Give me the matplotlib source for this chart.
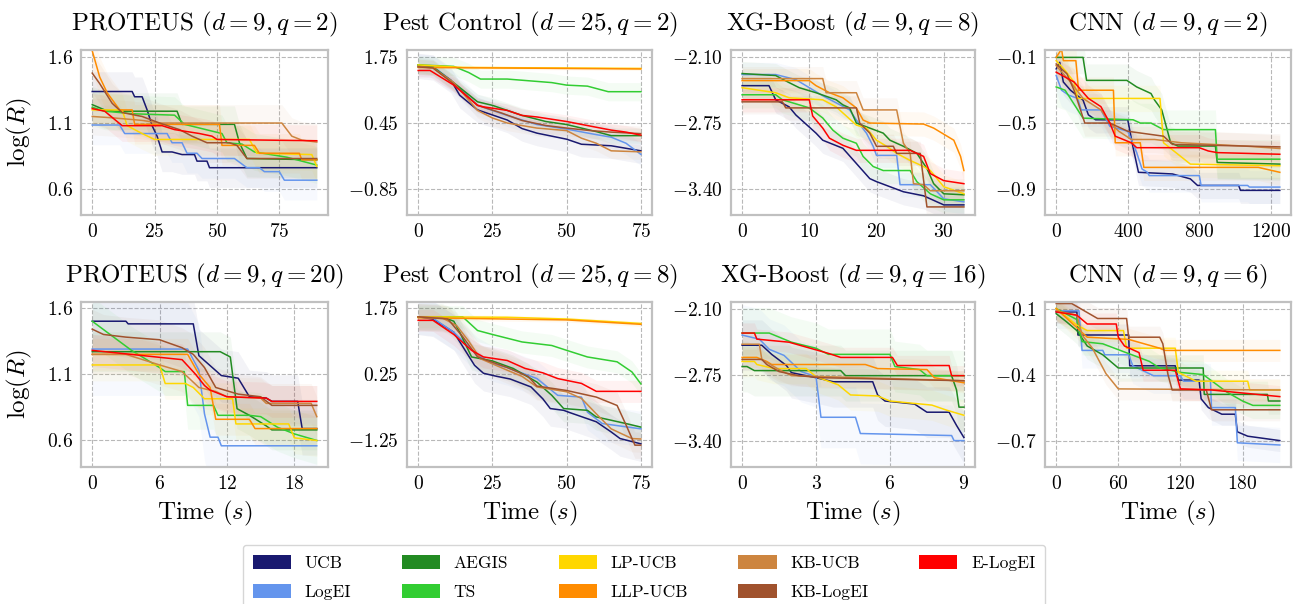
import matplotlib
matplotlib.use("Agg")
import matplotlib.pyplot as plt
from matplotlib.patches import Patch
import numpy as np

plt.rcParams['font.family'] = ['cmr10', 'DejaVu Serif']
plt.rcParams['mathtext.fontset'] = 'cm'
plt.rcParams['axes.formatter.use_mathtext'] = True

METHODS = ["UCB", "LogEI", "AEGIS", "TS", "LP-UCB", "LLP-UCB", "KB-UCB", "KB-LogEI", "E-LogEI"]
COLORS = ["#191970", "#6495ED", "#228B22", "#32CD32", "#FFD700", "#FF8C00", "#CD853F", "#A0522D", "#FF0000"]

TITLES = [r"PROTEUS ($d=9, q=2$)", r"Pest Control ($d=25, q=2$)", r"XG-Boost ($d=9, q=8$)", r"CNN ($d=9, q=2$)",
          r"PROTEUS ($d=9, q=20$)", r"Pest Control ($d=25, q=8$)", r"XG-Boost ($d=9, q=16$)", r"CNN ($d=9, q=6$)"]

YTICKS = [[0.6, 1.1, 1.6], [-0.85, 0.45, 1.75], [-3.40, -2.75, -2.10], [-0.9, -0.5, -0.1],
          [0.6, 1.1, 1.6], [-1.25, 0.25, 1.75], [-3.40, -2.75, -2.10], [-0.7, -0.4, -0.1]]
YTICKLABELS = [["0.6", "1.1", "1.6"], ["-0.85", "0.45", "1.75"], ["-3.40", "-2.75", "-2.10"], ["-0.9", "-0.5", "-0.1"],
               ["0.6", "1.1", "1.6"], ["-1.25", "0.25", "1.75"], ["-3.40", "-2.75", "-2.10"], ["-0.7", "-0.4", "-0.1"]]
XTICKS = [[0, 25, 50, 75], [0, 25, 50, 75], [0, 10, 20, 30], [0, 400, 800, 1200],
          [0, 6, 12, 18], [0, 25, 50, 75], [0, 3, 6, 9], [0, 60, 120, 180]]
YLIMS = [(0.40, 1.656), (-1.37, 1.895), (-3.66, -2.027), (-1.06, -0.055),
         (0.40, 1.645), (-1.855, 1.886), (-3.66, -2.034), (-0.82, -0.07)]

# ---- mean curves (time, log R) ----
PROTEUS_Q2 = {
    "UCB": [(0,1.34),(16,1.34),(17,1.30),(20,1.30),(22,1.20),(24,1.08),(26,1.0),(28,0.88),(32,0.88),(36,0.86),(41,0.86),(42,0.81),(46,0.81),(47,0.76),(90,0.76)],
    "LogEI": [(0,1.085),(11,1.085),(13,1.02),(30,1.02),(32,0.95),(36,0.95),(38,0.87),(42,0.87),(44,0.83),(57,0.83),(62,0.76),(67,0.76),(69,0.73),(75,0.73),(77,0.665),(90,0.665)],
    "AEGIS": [(0,1.24),(5,1.20),(9,1.19),(34,1.19),(36,1.09),(57,1.09),(59,0.95),(62,0.83),(90,0.82)],
    "TS": [(0,1.22),(5,1.19),(17,1.17),(33,1.16),(37,1.09),(52,1.02),(54,0.95),(60,0.94),(65,0.88),(78,0.84),(88,0.79),(90,0.78)],
    "LP-UCB": [(0,1.20),(12,1.20),(14,1.08),(20,1.02),(25,0.975),(63,0.975),(66,0.87),(88,0.86),(90,0.77)],
    "LLP-UCB": [(0,1.65),(3,1.45),(6,1.33),(11,1.20),(16,1.20),(17,1.09),(51,1.09),(52,0.93),(65,0.93),(67,0.87),(83,0.87),(84,0.82),(90,0.82)],
    "KB-UCB": [(0,1.15),(8,1.14),(20,1.12),(27,1.10),(76,1.10),(80,1.0),(84,0.97),(90,0.955)],
    "KB-LogEI": [(0,1.48),(3,1.40),(8,1.25),(12,1.18),(20,1.15),(27,1.10),(35,1.05),(40,1.00),(46,0.95),(55,0.95),(58,0.93),(62,0.83),(90,0.83)],
    "E-LogEI": [(0,1.21),(5,1.19),(12,1.08),(28,1.08),(33,1.05),(43,1.02),(48,1.0),(50,0.975),(90,0.965)],
}
PEST_Q2 = {
    "UCB": [(0,1.58),(5,1.55),(11,1.30),(14,1.00),(20,0.71),(30,0.51),(35,0.34),(40,0.25),(50,0.13),(55,0.03),(65,0.0),(75,-0.10)],
    "LogEI": [(0,1.6),(5,1.57),(12,1.25),(20,0.80),(30,0.60),(40,0.42),(50,0.33),(60,0.22),(65,0.17),(70,0.05),(75,-0.17)],
    "AEGIS": [(0,1.6),(5,1.56),(13,1.2),(20,0.87),(25,0.80),(30,0.70),(35,0.60),(43,0.48),(50,0.42),(55,0.35),(60,0.28),(65,0.20),(75,0.20)],
    "TS": [(0,1.60),(12,1.57),(17,1.45),(21,1.32),(30,1.32),(45,1.25),(50,1.20),(57,1.18),(64,1.07),(75,1.07)],
    "LP-UCB": [(0,1.60),(15,1.55),(75,1.53)],
    "LLP-UCB": [(0,1.55),(75,1.52)],
    "KB-UCB": [(0,1.57),(5,1.54),(12,1.25),(20,0.70),(25,0.55),(30,0.45),(40,0.35),(50,0.30),(55,0.15),(60,0.05),(65,-0.10),(75,-0.12)],
    "KB-LogEI": [(0,1.56),(5,1.54),(12,1.22),(20,0.80),(28,0.65),(35,0.50),(43,0.40),(50,0.35),(58,0.30),(65,0.27),(75,0.24)],
    "E-LogEI": [(0,1.49),(4,1.49),(12,1.20),(20,0.80),(22,0.77),(30,0.70),(35,0.60),(40,0.57),(50,0.48),(57,0.40),(65,0.31),(70,0.27),(75,0.21)],
}
XGB_Q8 = {
    "UCB": [(0,-2.38),(4,-2.38),(5,-2.52),(7,-2.59),(8,-2.67),(10,-2.79),(11,-2.85),(12,-2.92),(15,-3.0),(17,-3.15),(19,-3.3),(20,-3.33),(24,-3.43),(27,-3.47),(30,-3.56),(33,-3.56)],
    "LogEI": [(0,-2.27),(5,-2.27),(8,-2.32),(10,-2.40),(12,-2.48),(14,-2.55),(16,-2.62),(17,-2.72),(18.5,-2.85),(19.5,-2.98),(20,-3.07),(23,-3.07),(23.5,-3.36),(28,-3.36),(30,-3.50),(33,-3.53)],
    "AEGIS": [(0,-2.26),(5,-2.28),(7,-2.35),(8.5,-2.40),(11,-2.45),(14,-2.52),(15,-2.57),(16,-2.60),(17,-2.75),(19,-2.80),(21,-2.85),(22,-2.92),(24,-2.98),(26,-3.05),(27.5,-3.20),(28.5,-3.35),(30,-3.45),(33,-3.46)],
    "TS": [(0,-2.47),(5,-2.47),(6,-2.52),(10,-2.60),(12,-2.70),(13.5,-2.82),(15,-2.90),(17,-2.95),(18,-3.08),(19.5,-3.18),(21,-3.22),(25,-3.22),(26,-3.33),(28,-3.45),(30,-3.51),(33,-3.51)],
    "LP-UCB": [(0,-2.40),(5,-2.45),(7,-2.50),(12,-2.52),(14,-2.59),(15,-2.65),(17,-2.77),(18.5,-2.80),(20,-2.92),(21.5,-2.98),(23,-3.05),(25,-3.12),(27,-3.18),(28,-3.22),(30,-3.38),(33,-3.45)],
    "LLP-UCB": [(0,-2.33),(10,-2.33),(11,-2.38),(13,-2.45),(15,-2.50),(17,-2.60),(18,-2.72),(19,-2.75),(27,-2.76),(28.5,-2.80),(30,-2.86),(31.5,-2.92),(32.5,-3.08),(33,-3.22)],
    "KB-UCB": [(0,-2.31),(12,-2.31),(12.5,-2.45),(17,-2.45),(18,-2.62),(23,-2.62),(24,-2.95),(25,-3.05),(25.5,-3.35),(27,-3.36),(28,-3.42),(33,-3.42)],
    "KB-LogEI": [(0,-2.54),(6,-2.54),(6.5,-2.60),(17,-2.60),(17.5,-2.75),(19,-2.85),(20,-2.98),(22.5,-2.98),(23,-3.05),(26.5,-3.05),(27.5,-3.58),(33,-3.58)],
    "E-LogEI": [(0,-2.52),(10,-2.52),(10.5,-2.68),(12,-2.80),(13,-2.90),(15,-2.97),(17,-3.02),(25,-3.02),(27,-3.08),(28,-3.25),(30,-3.32),(33,-3.35)],
}
CNN_Q2 = {
    "UCB": [(0,-0.17),(20,-0.13),(40,-0.25),(80,-0.30),(150,-0.36),(180,-0.45),(220,-0.48),(400,-0.48),(430,-0.65),(460,-0.80),(650,-0.81),(750,-0.84),(790,-0.88),(1020,-0.88),(1030,-0.91),(1250,-0.91)],
    "LogEI": [(0,-0.21),(30,-0.30),(70,-0.33),(120,-0.35),(140,-0.42),(250,-0.42),(300,-0.52),(400,-0.55),(420,-0.60),(450,-0.68),(480,-0.78),(510,-0.80),(520,-0.82),(800,-0.82),(810,-0.88),(1070,-0.88),(1080,-0.89),(1250,-0.89)],
    "AEGIS": [(0,-0.10),(150,-0.10),(170,-0.24),(395,-0.24),(450,-0.28),(530,-0.32),(550,-0.36),(590,-0.42),(640,-0.62),(680,-0.64),(890,-0.64),(900,-0.74),(1250,-0.75)],
    "TS": [(0,-0.28),(50,-0.30),(150,-0.47),(430,-0.48),(470,-0.50),(530,-0.50),(600,-0.54),(890,-0.54),(900,-0.72),(1250,-0.72)],
    "LP-UCB": [(0,-0.12),(50,-0.18),(100,-0.25),(120,-0.35),(580,-0.35),(600,-0.62),(750,-0.75),(1250,-0.76)],
    "LLP-UCB": [(0,-0.10),(30,-0.05),(40,-0.12),(110,-0.12),(125,-0.30),(320,-0.30),(330,-0.62),(470,-0.62),(490,-0.77),(1130,-0.77),(1250,-0.80)],
    "KB-UCB": [(0,-0.15),(80,-0.25),(150,-0.35),(250,-0.42),(300,-0.50),(350,-0.55),(420,-0.60),(550,-0.60),(700,-0.62),(1050,-0.64),(1250,-0.655)],
    "KB-LogEI": [(0,-0.14),(60,-0.20),(100,-0.30),(160,-0.50),(300,-0.50),(400,-0.55),(600,-0.58),(650,-0.63),(1250,-0.645)],
    "E-LogEI": [(0,-0.19),(50,-0.22),(100,-0.25),(140,-0.30),(180,-0.35),(250,-0.40),(300,-0.50),(330,-0.58),(420,-0.62),(450,-0.65),(800,-0.65),(850,-0.67),(900,-0.68),(1250,-0.69)],
}
PROTEUS_Q20 = {
    "UCB": [(0,1.50),(3,1.50),(3.2,1.48),(9,1.48),(9.5,1.24),(11.5,1.09),(13,1.07),(14,0.93),(15.5,0.92),(16,0.895),(18.3,0.895),(18.7,0.69),(20,0.69)],
    "LogEI": [(0,1.29),(8.5,1.29),(9.5,1.13),(10,0.80),(10.5,0.625),(11.2,0.625),(11.5,0.56),(20,0.56)],
    "AEGIS": [(0,1.27),(11.4,1.27),(12.3,1.23),(12.9,0.84),(14,0.79),(15.5,0.71),(16,0.68),(20,0.68)],
    "TS": [(0,1.50),(3.5,1.28),(6,1.15),(6.5,1.12),(8.2,1.12),(8.5,0.865),(10.8,0.865),(11.2,0.79),(14,0.79),(15,0.78),(16.5,0.70),(18,0.65),(20,0.60)],
    "LP-UCB": [(0,1.17),(6,1.17),(6.5,1.03),(8.3,1.03),(9,1.0),(10,0.915),(12.5,0.915),(12.8,0.725),(17.5,0.725),(18,0.62),(20,0.60)],
    "LLP-UCB": [(0,1.25),(8.5,1.25),(9.5,1.10),(10.5,1.0),(11,0.76),(14,0.76),(14.5,0.69),(20,0.69)],
    "KB-UCB": [(0,1.25),(3,1.25),(6,1.17),(8,1.12),(9.5,1.0),(11,0.97),(12,0.93),(15,0.92),(15.5,0.88),(19.5,0.88),(20,0.78)],
    "KB-LogEI": [(0,1.44),(1,1.40),(3,1.38),(6,1.36),(8,1.30),(9,1.25),(10,1.15),(11,1.00),(13,0.95),(15,0.93),(16,0.865),(20,0.865)],
    "E-LogEI": [(0,1.28),(8,1.21),(9.2,1.10),(10,1.015),(10.5,0.98),(12,0.93),(15.5,0.92),(16,0.895),(20,0.895)],
}
PEST_Q8 = {
    "UCB": [(0,1.55),(5,1.50),(12,1.20),(19,0.45),(22,0.27),(26.5,0.20),(31,0.14),(38,-0.04),(42,-0.31),(44.5,-0.53),(49,-0.57),(51,-0.62),(60,-0.83),(65,-1.06),(68,-1.21),(75,-1.33)],
    "LogEI": [(0,1.55),(5,1.52),(12,1.20),(20,0.68),(25,0.49),(30,0.40),(40,0.15),(47,-0.23),(55,-0.27),(57,-0.61),(62,-0.87),(75,-0.99)],
    "AEGIS": [(0,1.55),(8,1.55),(12,1.45),(14,1.20),(18,0.64),(25,0.55),(32,0.38),(40,0.07),(45,-0.23),(49,-0.53),(57,-0.57),(60,-0.72),(70,-0.87),(75,-0.95)],
    "TS": [(0,1.55),(15,1.55),(20,1.24),(25,1.15),(35,0.98),(45,0.90),(50,0.79),(57,0.64),(67,0.53),(72,0.30),(75,0.03)],
    "LP-UCB": [(0,1.55),(30,1.54),(50,1.50),(75,1.40)],
    "LLP-UCB": [(0,1.53),(30,1.50),(50,1.48),(75,1.38)],
    "KB-UCB": [(0,1.55),(8,1.53),(13,1.35),(17,1.0),(21,0.60),(30,0.34),(35,0.20),(40,-0.04),(50,-0.15),(55,-0.30),(60,-0.65),(65,-0.99),(72,-1.21),(75,-1.22)],
    "KB-LogEI": [(0,1.55),(10,1.50),(15,1.10),(20,0.64),(30,0.40),(37,0.20),(40,-0.02),(50,-0.12),(60,-0.27),(67,-0.46),(70,-0.90),(73,-1.36),(75,-1.36)],
    "E-LogEI": [(0,1.47),(5,1.47),(12,1.15),(18,0.79),(22,0.64),(30,0.56),(36,0.38),(42,0.28),(47,0.15),(55,0.04),(60,-0.14),(75,-0.14)],
}
XGB_Q16 = {
    "UCB": [(0,-2.46),(0.8,-2.46),(1.2,-2.55),(1.8,-2.66),(2.0,-2.73),(3.0,-2.78),(3.7,-2.82),(5.3,-2.82),(5.5,-2.95),(5.8,-3.01),(7.0,-3.04),(7.5,-3.12),(8.4,-3.12),(8.7,-3.25),(9,-3.37)],
    "LogEI": [(0,-2.36),(0.7,-2.40),(1.1,-2.50),(1.7,-2.56),(2.4,-2.72),(3.0,-2.77),(3.2,-3.17),(4.6,-3.17),(4.8,-3.33),(8.5,-3.35),(8.6,-3.40),(9,-3.40)],
    "AEGIS": [(0,-2.67),(0.2,-2.67),(0.5,-2.71),(4.0,-2.71),(4.2,-2.76),(8.5,-2.76),(8.7,-2.90),(8.8,-3.07),(9,-3.07)],
    "TS": [(0,-2.34),(1.1,-2.34),(1.5,-2.38),(2,-2.43),(3,-2.49),(3.5,-2.55),(6,-2.55),(6.2,-2.67),(7.2,-2.70),(7.5,-2.76),(9,-2.76)],
    "LP-UCB": [(0,-2.62),(0.5,-2.62),(0.6,-2.65),(1.3,-2.69),(2.6,-2.69),(3.0,-2.77),(3.9,-2.85),(4.4,-2.95),(5.5,-2.96),(6.0,-3.01),(7.7,-3.05),(8.3,-3.10),(9,-3.15)],
    "LLP-UCB": [(0,-2.58),(0.6,-2.58),(1.0,-2.62),(1.2,-2.65),(5.0,-2.65),(5.5,-2.69),(7.5,-2.70),(7.8,-2.78),(9,-2.83)],
    "KB-UCB": [(0,-2.45),(0.7,-2.45),(0.8,-2.60),(1.5,-2.70),(2.0,-2.76),(9,-2.81)],
    "KB-LogEI": [(0,-2.60),(0.8,-2.60),(1.0,-2.65),(1.5,-2.72),(2.3,-2.76),(3.2,-2.78),(9,-2.81)],
    "E-LogEI": [(0,-2.34),(0.5,-2.34),(0.6,-2.40),(1.9,-2.43),(3.5,-2.54),(4.0,-2.58),(6.1,-2.58),(6.3,-2.66),(8.4,-2.66),(8.5,-2.76),(9,-2.76)],
}
CNN_Q6 = {
    "UCB": [(0,-0.115),(20,-0.115),(21,-0.22),(70,-0.22),(71,-0.36),(115,-0.36),(118,-0.425),(138,-0.425),(140,-0.51),(147,-0.55),(160,-0.58),(173,-0.58),(175,-0.66),(185,-0.68),(216,-0.70)],
    "LogEI": [(0,-0.11),(22,-0.11),(25,-0.29),(45,-0.29),(47,-0.31),(70,-0.31),(74,-0.36),(94,-0.405),(120,-0.405),(123,-0.43),(149,-0.43),(150,-0.55),(173,-0.55),(175,-0.71),(216,-0.72)],
    "AEGIS": [(0,-0.123),(10,-0.16),(20,-0.20),(30,-0.27),(45,-0.31),(60,-0.37),(142,-0.37),(143,-0.49),(204,-0.49),(205,-0.52),(216,-0.52)],
    "TS": [(0,-0.10),(20,-0.15),(25,-0.25),(45,-0.26),(90,-0.34),(100,-0.37),(120,-0.39),(142,-0.40),(165,-0.48),(180,-0.52),(190,-0.54),(216,-0.54)],
    "LP-UCB": [(0,-0.10),(20,-0.175),(30,-0.20),(65,-0.20),(68,-0.28),(115,-0.28),(118,-0.39),(135,-0.43),(185,-0.43),(187,-0.47),(216,-0.47)],
    "LLP-UCB": [(0,-0.10),(30,-0.23),(70,-0.24),(100,-0.28),(105,-0.29),(216,-0.29)],
    "KB-UCB": [(0,-0.11),(20,-0.13),(25,-0.22),(35,-0.28),(48,-0.395),(60,-0.465),(216,-0.47)],
    "KB-LogEI": [(0,-0.077),(15,-0.077),(40,-0.145),(68,-0.145),(70,-0.23),(100,-0.23),(103,-0.26),(108,-0.40),(112,-0.47),(145,-0.47),(150,-0.56),(216,-0.56)],
    "E-LogEI": [(0,-0.115),(20,-0.13),(30,-0.17),(58,-0.17),(60,-0.23),(66,-0.27),(80,-0.30),(84,-0.38),(115,-0.38),(120,-0.465),(150,-0.47),(216,-0.50)],
}

# ---- half-width of shaded bands (order of METHODS) ----
BAND_PROTEUS_Q2 = [0.15, 0.15, 0.14, 0.14, 0.12, 0.15, 0.14, 0.15, 0.12]
BAND_PEST_Q2 = [0.25, 0.22, 0.15, 0.18, 0.03, 0.03, 0.15, 0.15, 0.13]
BAND_XGB_Q8 = [0.13, 0.12, 0.12, 0.13, 0.12, 0.12, 0.12, 0.12, 0.12]
BAND_CNN_Q2 = [0.08, 0.1, 0.1, 0.12, 0.08, 0.08, 0.08, 0.08, 0.08]
BAND_PROTEUS_Q20 = [0.2, 0.35, 0.15, 0.18, 0.12, 0.12, 0.15, 0.15, 0.12]
BAND_PEST_Q8 = [0.4, 0.4, 0.3, 0.25, 0.05, 0.05, 0.3, 0.3, 0.25]
BAND_XGB_Q16 = [0.25, 0.3, 0.25, 0.25, 0.15, 0.1, 0.1, 0.1, 0.1]
BAND_CNN_Q6 = [0.05, 0.08, 0.06, 0.06, 0.05, 0.05, 0.05, 0.05, 0.05]

PANELS = [PROTEUS_Q2, PEST_Q2, XGB_Q8, CNN_Q2, PROTEUS_Q20, PEST_Q8, XGB_Q16, CNN_Q6]
BANDS = [BAND_PROTEUS_Q2, BAND_PEST_Q2, BAND_XGB_Q8, BAND_CNN_Q2, BAND_PROTEUS_Q20, BAND_PEST_Q8, BAND_XGB_Q16, BAND_CNN_Q6]

W, H = 1293, 604
fig = plt.figure(figsize=(W / 100, H / 100), dpi=100)
lefts = [81, 407, 731, 1045]
widths = [247, 245, 244, 246]
tops = [50, 302]
ah = 165

for i in range(8):
    r, c = divmod(i, 4)
    ax = fig.add_axes([lefts[c] / W, 1 - (tops[r] + ah) / H, widths[c] / W, ah / H])
    data = PANELS[i]
    for k, m in enumerate(METHODS):
        t = np.array([p[0] for p in data[m]])
        y = np.array([p[1] for p in data[m]])
        w = BANDS[i][k]
        ax.fill_between(t, y - w, y + w, color=COLORS[k], alpha=0.05, lw=0)
    for k, m in enumerate(METHODS):
        t = np.array([p[0] for p in data[m]])
        y = np.array([p[1] for p in data[m]])
        ax.plot(t, y, color=COLORS[k], lw=1.1)
    ax.set_ylim(*YLIMS[i])
    ax.set_yticks(YTICKS[i])
    ax.set_yticklabels(["$" + s + "$" for s in YTICKLABELS[i]])
    ax.set_xticks(XTICKS[i])
    ax.set_xticklabels(["$%d$" % v for v in XTICKS[i]])
    ax.margins(x=0.05)
    ax.grid(True, ls="--", color="#b8b8b8", lw=0.8)
    ax.set_axisbelow(True)
    ax.tick_params(length=0, labelsize=14, pad=6)
    for s in ax.spines.values():
        s.set_color("#c0c0c0")
        s.set_linewidth(1.6)
    ax.set_title(TITLES[i], fontsize=18, pad=14)
    if c == 0:
        ax.set_ylabel(r"$\log(R)$", fontsize=18, labelpad=9)
    if r == 1:
        ax.set_xlabel(r"Time $(s)$", fontsize=18, labelpad=4)

handles = [Patch(facecolor=COLORS[k], edgecolor="none", label=m) for k, m in enumerate(METHODS)]
fig.legend(handles=handles, ncol=5, loc="upper left", bbox_to_anchor=(243 / W, 1 - 545 / H),
           fontsize=12.5, frameon=True, edgecolor="#cccccc", fancybox=True, handlelength=2.2,
           handleheight=0.9, columnspacing=2.9, borderaxespad=0, labelspacing=0.75, borderpad=0.55)

fig.savefig("out.png", dpi=100, facecolor="white")
